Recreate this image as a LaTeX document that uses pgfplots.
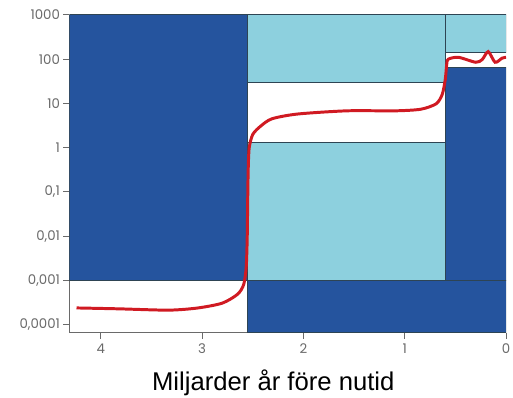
\documentclass[border=0pt]{standalone}
\usepackage{pgfplots}
\pgfplotsset{compat=1.18}
\usepackage{fontspec}
\setmainfont{Liberation Sans}
\newfontfamily\ticfont{Poppins}
\definecolor{dblue}{HTML}{25549E}
\definecolor{lblue}{HTML}{8DD0DE}
\definecolor{edge}{HTML}{2E4453}
\definecolor{ored}{HTML}{D01A22}
\definecolor{axgray}{HTML}{6A6A6A}
\begin{document}
\begin{tikzpicture}
\begin{axis}[
  name=ax, scale only axis, width=441bp, height=321bp,
  xmin=0, xmax=4.311, x dir=reverse,
  ymode=log, ymin=6.6e-5, ymax=1000,
  axis x line*=bottom, axis y line*=left,
  axis line style={draw=axgray, line width=1.3bp, -},
  tick align=outside, major tick length=6bp,
  tick style={draw=axgray, line width=1bp},
  yminorticks=false, xminorticks=false,
  xtick={0,1,2,3,4}, xticklabels={0,1,2,3,4},
  ytick={1e-4,1e-3,1e-2,1e-1,1,10,100,1000},
  yticklabels={{0,0001},{0,001},{0,01},{0,1},1,10,100,1000},
  ticklabel style={font=\ticfont\fontsize{13.5}{13.5}\selectfont, text=axgray},
  xticklabel style={yshift=-2bp},
  xlabel={Miljarder år före nutid},
  xlabel style={font=\fontsize{26}{26}\selectfont, at={(axis description cs:0.467,0)}, anchor=base, yshift=-58bp},
  clip=true,
]
% rectangles
\addplot[fill=dblue, draw=edge, line width=0.8bp] coordinates {(4.311,1e-3) (2.55,1e-3) (2.55,1000) (4.311,1000)} -- cycle;
\addplot[fill=lblue, draw=edge, line width=0.8bp] coordinates {(2.55,30) (0.6,30) (0.6,1000) (2.55,1000)} -- cycle;
\addplot[fill=lblue, draw=edge, line width=0.8bp] coordinates {(2.55,1e-3) (0.6,1e-3) (0.6,1.3) (2.55,1.3)} -- cycle;
\addplot[fill=lblue, draw=edge, line width=0.8bp] coordinates {(0.6,141) (0,141) (0,1000) (0.6,1000)} -- cycle;
\addplot[fill=dblue, draw=edge, line width=0.8bp] coordinates {(0.6,1e-3) (0,1e-3) (0,65) (0.6,65)} -- cycle;
\addplot[fill=dblue, draw=edge, line width=0.8bp] coordinates {(2.55,6.6e-5) (0,6.6e-5) (0,1e-3) (2.55,1e-3)} -- cycle;
\addplot[draw=edge, line width=0.8bp] coordinates {(4.311,1e-3) (2.55,1e-3)};
% oxygen curve
\addplot[ored, line width=3bp, smooth, tension=0.45] coordinates {
(4.24,2.40e-4) (3.82,2.29e-4) (3.33,2.14e-4) (3.04,2.40e-4) (2.80,3.09e-4)
(2.65,4.9e-4) (2.59,8.1e-4) (2.565,2.0e-3) (2.555,9.3e-3) (2.55,0.072)
(2.545,0.34) (2.535,1.0) (2.50,2.0) (2.42,3.1) (2.31,4.5) (2.06,5.75)
(1.57,6.8) (1.09,6.8) (0.84,7.4) (0.69,9.8) (0.63,16) (0.60,35)
(0.585,79) (0.57,100) (0.47,110) (0.30,85) (0.235,98) (0.176,148)
(0.108,85) (0.04,105) (0,110)
};
\end{axis}
\pgfresetboundingbox
\path ([shift={(-70bp,-65bp)}]ax.south west) rectangle ([shift={(7bp,15bp)}]ax.north east);
\end{tikzpicture}
\end{document}
